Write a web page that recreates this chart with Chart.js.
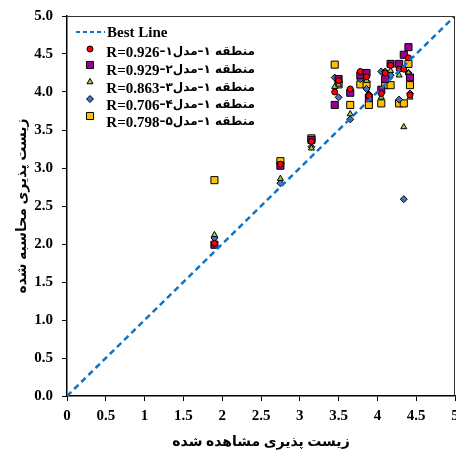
<!DOCTYPE html>
<html>
<head>
<meta charset="utf-8">
<script src="https://cdn.jsdelivr.net/npm/chart.js@4/dist/chart.umd.min.js"></script>
<style>
  html, body { margin: 0; padding: 0; background: #fff; }
  #wrap { width: 456px; height: 452px; }
</style>
</head>
<body>
<div id="wrap"><canvas id="myChart" width="456" height="452"></canvas></div>
<script>
"use strict";
// observed values (x) shared by all models
const observed = [1.90, 2.75, 3.15, 3.45, 3.50, 3.65, 3.78, 3.86, 3.89, 4.05, 4.10, 4.17, 4.28, 4.34, 4.40, 4.42];
// predicted values per model
const model1 = [2.01, 3.05, 3.35, 4.00, 4.15, 4.04, 4.27, 4.20, 3.95, 3.98, 4.25, 4.35, 4.30, 4.30, 4.45, 3.96];
const model2 = [1.99, 3.03, 3.37, 3.83, 4.17, 3.99, 4.22, 4.25, 3.92, 4.03, 4.17, 4.37, 4.37, 4.49, 4.59, 4.19];
const model3 = [2.12, 2.86, 3.26, 4.07, 4.10, 3.71, 4.20, 4.15, 3.97, 3.93, 4.22, 4.28, 4.22, 3.54, 4.25, 3.93];
const model4 = [2.08, 2.80, 3.28, 4.19, 3.93, 3.64, 4.17, 4.04, 3.97, 4.27, 4.27, 4.22, 3.90, 2.59, 4.25, 3.98];
const model5 = [2.84, 3.09, 3.39, 4.36, 4.10, 3.83, 4.10, 4.10, 3.83, 3.85, 4.09, 4.09, 3.85, 3.85, 4.37, 4.09];
const bestLine = [[0, 0], [5, 5]];
const bestLabel = "Best Line";
const modelNames = ["منطقه ۱–مدل۱–", "منطقه ۱–مدل۲–", "منطقه ۱–مدل۳–", "منطقه ۱–مدل۴–", "منطقه ۱–مدل۵–"];
const rValues = ["R=0.926", "R=0.929", "R=0.863", "R=0.706", "R=0.798"];
const xTitle = "زیست پذیری مشاهده شده";
const yTitle = "زیست پذیری محاسبه شده";

const FONT = "'Liberation Serif', 'DejaVu Sans', serif";

const toPoints = (ys) => ys.map((y, i) => ({ x: observed[i], y: y }));

const series = [
  { data: model1, color: "#FF0000", style: "circle", r: 3 },
  { data: model2, color: "#9B0096", style: "rect", r: 5 },
  { data: model3, color: "#92D050", style: "triangle", r: 3.5 },
  { data: model4, color: "#4472C4", style: "rectRot", r: 3.5 },
  { data: model5, color: "#FFC000", style: "rect", r: 5 }
];

const datasets = [
  {
    label: bestLabel,
    type: "line",
    data: bestLine.map((p) => ({ x: p[0], y: p[1] })),
    borderColor: "#0E74C8",
    borderWidth: 2.5,
    borderDash: [6, 4],
    pointRadius: 0,
    fill: false
  }
];
series.forEach((s, i) => {
  datasets.push({
    label: modelNames[i] + rValues[i],
    persian: modelNames[i],
    rText: rValues[i],
    data: toPoints(s.data),
    backgroundColor: s.color,
    borderColor: "#000",
    borderWidth: 1,
    pointStyle: s.style,
    pointRadius: s.r
  });
});

// legend drawn inside the plot area + top/right frame
const insideLegend = {
  id: "insideLegend",
  afterDraw(chart) {
    const { ctx, chartArea } = chart;
    ctx.save();
    // frame
    ctx.strokeStyle = "#333";
    ctx.lineWidth = 1;
    ctx.beginPath();
    ctx.moveTo(chartArea.left, chartArea.top + 0.5);
    ctx.lineTo(chartArea.right - 0.5, chartArea.top + 0.5);
    ctx.lineTo(chartArea.right - 0.5, chartArea.bottom);
    ctx.stroke();

    const l = chartArea.left;
    const t = chartArea.top;
    ctx.fillStyle = "#000";
    ctx.textBaseline = "middle";
    // best line row
    const bl = chart.data.datasets[0];
    ctx.strokeStyle = bl.borderColor;
    ctx.lineWidth = 2;
    ctx.setLineDash([4, 3]);
    ctx.beginPath();
    ctx.moveTo(l + 9, t + 16);
    ctx.lineTo(l + 38, t + 16);
    ctx.stroke();
    ctx.setLineDash([]);
    ctx.textAlign = "left";
    ctx.font = "bold 15px " + FONT;
    ctx.fillText(bl.label, l + 40, t + 17);

    const markY = [33, 49, 66, 83, 100];
    const textY = [37, 55, 73, 90, 107];
    const right = l + 188;
    for (let i = 1; i < chart.data.datasets.length; i++) {
      const ds = chart.data.datasets[i];
      ctx.fillStyle = ds.backgroundColor;
      ctx.strokeStyle = "#000";
      ctx.lineWidth = 1;
      Chart.helpers.drawPoint(ctx, {
        pointStyle: ds.pointStyle,
        radius: ds.pointRadius,
        rotation: 0,
        borderWidth: 1
      }, l + 23, t + markY[i - 1]);
      ctx.fillStyle = "#000";
      // persian part (right to left)
      ctx.font = "bold 12px 'DejaVu Sans', sans-serif";
      ctx.direction = "rtl";
      ctx.textAlign = "right";
      const wP = ctx.measureText(ds.persian).width;
      ctx.fillText(ds.persian, right, t + textY[i - 1] - 1);
      ctx.direction = "ltr";
      ctx.font = "bold 15px " + FONT;
      ctx.textAlign = "right";
      ctx.fillText(ds.rText, right - wP, t + textY[i - 1]);
    }
    ctx.restore();
  }
};

const axisCommon = {
  type: "linear",
  min: 0,
  max: 5,
  border: { display: true, color: "#000", width: 1.5 },
  grid: { display: true, drawOnChartArea: false, drawTicks: true, tickLength: 5, color: "#000" }
};

const config = {
  type: "scatter",
  data: { datasets: datasets },
  options: {
    responsive: false,
    animation: false,
    layout: { autoPadding: false, padding: { top: 16, right: 1, left: 0, bottom: 0 } },
    plugins: {
      legend: { display: false },
      tooltip: { enabled: false }
    },
    scales: {
      x: Object.assign({}, axisCommon, {
        ticks: {
          stepSize: 0.5,
          padding: 6,
          color: "#000",
          font: { family: FONT, size: 15, weight: "bold" },
          maxRotation: 0,
          callback: (v) => String(v)
        },
        title: {
          display: true,
          text: xTitle,
          color: "#000",
          font: { family: FONT, size: 14, weight: "bold", lineHeight: 1 },
          padding: { top: 0, bottom: 3 }
        },
        afterFit(scale) {
          scale.height = 56;
          scale.paddingRight = 0;
          scale.paddingLeft = 0;
        }
      }),
      y: Object.assign({}, axisCommon, {
        ticks: {
          stepSize: 0.5,
          padding: 9,
          color: "#000",
          font: { family: FONT, size: 15, weight: "bold" },
          callback: (v) => v.toFixed(1)
        },
        title: {
          display: true,
          text: yTitle,
          color: "#000",
          font: { family: FONT, size: 14, weight: "bold", lineHeight: 1 },
          padding: { top: 15, bottom: 0 }
        },
        afterFit(scale) {
          scale.width = 67;
          scale.paddingTop = 0;
          scale.paddingBottom = 0;
        }
      })
    }
  },
  plugins: [insideLegend]
};

const myChart = new Chart(document.getElementById("myChart"), config);
</script>
</body>
</html>
